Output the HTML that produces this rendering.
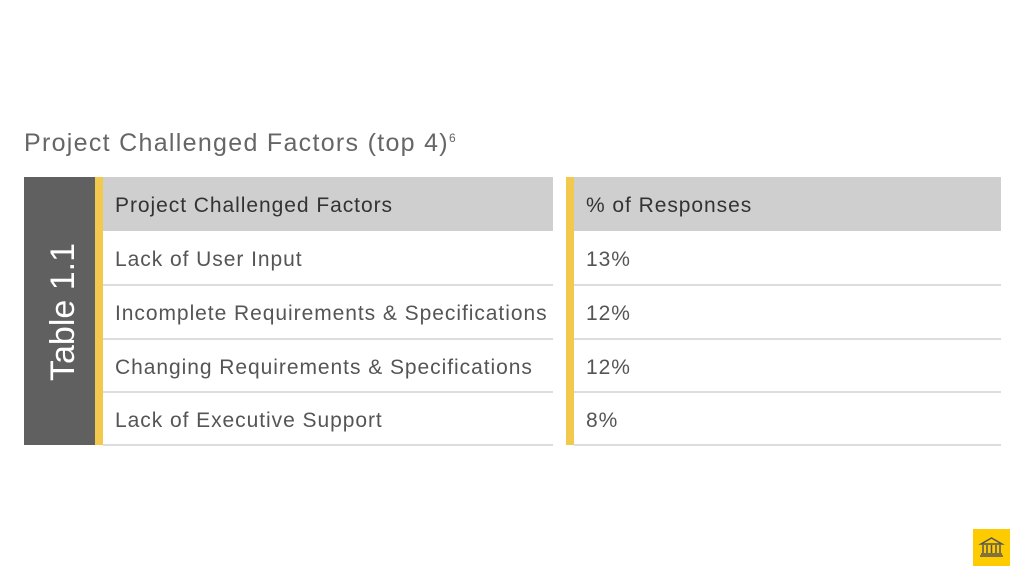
<!DOCTYPE html>
<html><head><style>
body{margin:0;width:1024px;height:576px;background:#fff;position:relative;overflow:hidden;font-family:"Liberation Sans",sans-serif}
.a{position:absolute}
.t{font-size:21px;color:#555;white-space:nowrap;letter-spacing:0.95px}
.h{color:#333}
.line{height:2px;background:#ddd}
</style></head><body>
<div class="a" style="left:24px;top:129px;font-size:25px;color:#666;letter-spacing:1.3px;white-space:nowrap">Project Challenged Factors (top 4)<sup style="font-size:12px;vertical-align:9px">6</sup></div>
<div class="a" style="left:24px;top:177px;width:71px;height:268px;background:#606060"></div>
<div class="a" style="left:44px;top:381px;transform:rotate(-90deg);transform-origin:0 0;color:#fff;font-size:34px;width:170px;white-space:nowrap">Table 1.1</div>
<div class="a" style="left:95px;top:177px;width:8px;height:268px;background:#f2c94c"></div>
<div class="a" style="left:566px;top:177px;width:8px;height:268px;background:#f2c94c"></div>
<div class="a" style="left:103px;top:177px;width:450px;height:54px;background:#cfcfcf"></div>
<div class="a" style="left:574px;top:177px;width:427px;height:54px;background:#cfcfcf"></div>
<div class="a line" style="left:103px;top:284px;width:450px"></div>
<div class="a line" style="left:103px;top:338px;width:450px"></div>
<div class="a line" style="left:103px;top:391px;width:450px"></div>
<div class="a line" style="left:103px;top:444px;width:450px"></div>
<div class="a line" style="left:574px;top:284px;width:427px"></div>
<div class="a line" style="left:574px;top:338px;width:427px"></div>
<div class="a line" style="left:574px;top:391px;width:427px"></div>
<div class="a line" style="left:574px;top:444px;width:427px"></div>
<div class="a t h" style="left:115px;top:194px">Project Challenged Factors</div>
<div class="a t h" style="left:586px;top:194px">% of Responses</div>
<div class="a t" style="left:115px;top:248px">Lack of User Input</div>
<div class="a t" style="left:115px;top:302px">Incomplete Requirements &amp; Specifications</div>
<div class="a t" style="left:115px;top:356px">Changing Requirements &amp; Specifications</div>
<div class="a t" style="left:115px;top:409px">Lack of Executive Support</div>
<div class="a t" style="left:586px;top:248px">13%</div>
<div class="a t" style="left:586px;top:302px">12%</div>
<div class="a t" style="left:586px;top:356px">12%</div>
<div class="a t" style="left:586px;top:409px">8%</div>
<div class="a" style="left:973px;top:529px;width:37px;height:37px;background:#fecb00">
<svg width="37" height="37" viewBox="0 0 37 37"><g fill="none" stroke="#555" stroke-width="1.5"><path d="M8 15 L18.5 9 L29 15 Z"/><path d="M10 16v8M14 16v8M18.5 16v8M23 16v8M27 16v8M8 25h21M7 27h23"/></g></svg>
</div>
</body></html>
